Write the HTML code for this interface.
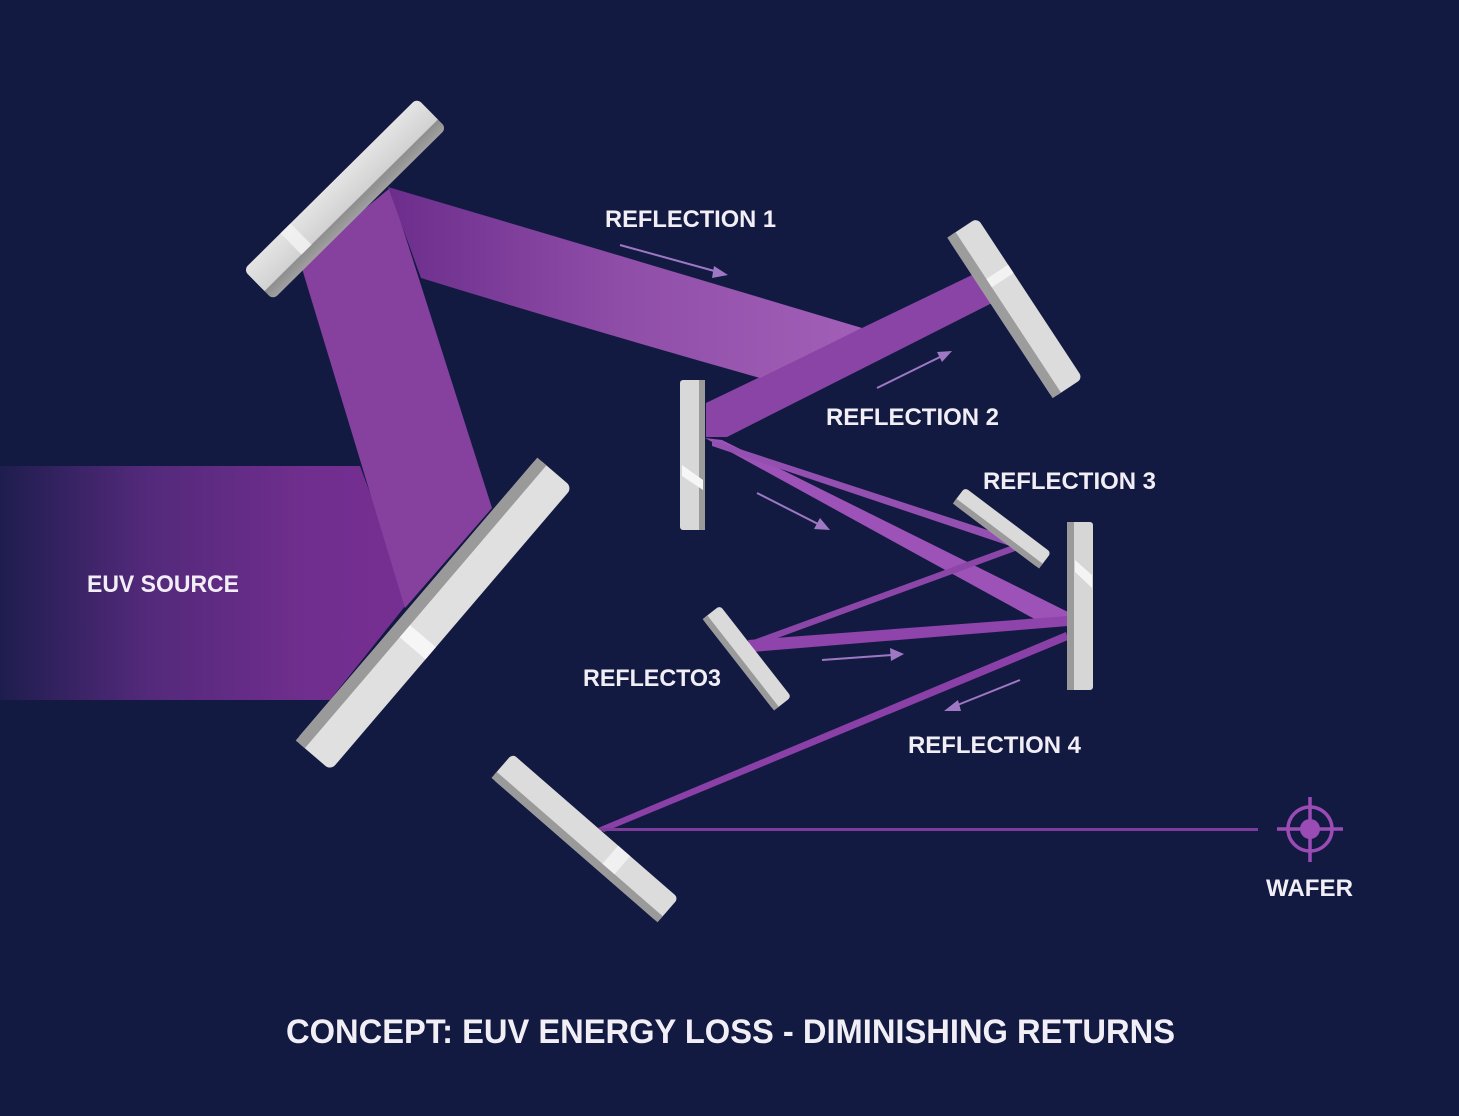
<!DOCTYPE html>
<html><head><meta charset="utf-8"><style>
html,body{margin:0;padding:0;background:#131a42;}
svg{display:block}
text{font-family:"Liberation Sans Narrow","Liberation Sans",sans-serif;fill:#f2eef6;font-weight:bold}
</style></head><body>
<svg width="1459" height="1116" viewBox="0 0 1459 1116" xmlns="http://www.w3.org/2000/svg">
<defs>
<linearGradient id="src" x1="0" x2="1" y1="0" y2="0">
<stop offset="0" stop-color="#1e1d4e"/><stop offset="0.35" stop-color="#52297a"/><stop offset="0.75" stop-color="#702e8e"/><stop offset="1" stop-color="#762f92"/>
</linearGradient>
<linearGradient id="b1" x1="0" x2="1" y1="0" y2="0">
<stop offset="0" stop-color="#6c2d8c"/><stop offset="0.5" stop-color="#8f4ea8"/><stop offset="1" stop-color="#a25fb8"/>
</linearGradient>
<linearGradient id="mir" x1="0" x2="0" y1="0" y2="1">
<stop offset="0" stop-color="#e4e4e4"/><stop offset="0.7" stop-color="#d2d2d2"/><stop offset="0.72" stop-color="#8e8e8e"/><stop offset="1" stop-color="#a0a0a0"/>
</linearGradient>
</defs>
<rect width="1459" height="1116" fill="#131a42"/>
<polygon points="0,466 360,466 410,600 330,700 0,700" fill="url(#src)"/>
<polygon points="300,262 390,188 492,508 405,608" fill="#86409e"/>
<!-- beam 2 D->C -->
<polygon points="972,275 992,303 727,437 706,437 706,403 862,328" fill="#8a44a6"/>
<!-- beam 1 A->D -->
<path d="M388,187 Q625,257 862,328 L760,378 Q590,330 421,278 Z" fill="url(#b1)"/>
<polygon points="705,438 722,440 1068,612 1068,626 1040,622" fill="#9c52b6"/>
<polygon points="712,440 1018,540 1016,548 712,446" fill="#9450b0"/>
<polygon points="1016,544 1018,550 750,648 748,642" fill="#8c46a8"/>
<polygon points="748,640 1068,616 1068,626 752,652" fill="#8e44aa"/>
<polygon points="1066,632 1068,640 604,832 598,828" fill="#8a40a6"/>
<rect x="600" y="828" width="658" height="3" fill="#7c3c9c"/>
<g transform="translate(345,199) rotate(-44.7)"><rect x="-122" y="-21" width="244" height="42" rx="6" fill="url(#mir)"/><rect x="-70" y="-21" width="14" height="30" fill="#f4f4f4" opacity="0.8"/></g>
<g transform="translate(434,614) rotate(-49.5)"><rect x="-186" y="-23" width="372" height="46" rx="7" fill="#e0e0e0"/><rect x="-186" y="-23" width="372" height="12" fill="#9a9a9a"/><rect x="-40" y="-11" width="16" height="34" fill="#f6f6f6"/></g>
<g><rect x="680" y="380" width="25" height="150" rx="3" fill="#d8d8d8"/><rect x="699" y="380" width="6" height="150" fill="#9a9a9a"/><polygon points="682,465 703,480 703,490 682,476" fill="#f6f6f6"/></g>
<g transform="translate(1015,308) rotate(56.7)"><rect x="-96" y="-18" width="192" height="36" rx="6" fill="#dcdcdc"/><rect x="-96" y="8" width="192" height="10" fill="#9c9c9c"/><rect x="-40" y="-18" width="10" height="26" fill="#f2f2f2"/></g>
<g transform="translate(1002,528) rotate(37)"><rect x="-54" y="-10" width="108" height="20" rx="4" fill="#dadada"/><rect x="-54" y="4" width="108" height="6" fill="#9a9a9a"/></g>
<g><rect x="1067" y="522" width="26" height="168" rx="3" fill="#d6d6d6"/><rect x="1067" y="522" width="7" height="168" fill="#9a9a9a"/><polygon points="1075,560 1092,575 1092,588 1075,572" fill="#f4f4f4"/></g>
<g transform="translate(747,658) rotate(52)"><rect x="-58" y="-11" width="116" height="22" rx="4" fill="#dadada"/><rect x="-58" y="5" width="116" height="6" fill="#9a9a9a"/></g>
<g transform="translate(585,838) rotate(41)"><rect x="-110" y="-16" width="220" height="32" rx="5" fill="#dcdcdc"/><rect x="-110" y="8" width="220" height="8" fill="#9a9a9a"/><rect x="30" y="-16" width="16" height="24" fill="#f0f0f0"/></g>
<g stroke="#9f78c4" stroke-width="2" fill="#9f78c4">
<line x1="620" y1="245" x2="718" y2="272"/><polygon points="728,275 714,266 712,278" stroke="none"/>
<line x1="877" y1="388" x2="942" y2="356"/><polygon points="952,351 937,352 942,362" stroke="none"/>
<line x1="757" y1="493" x2="820" y2="525"/><polygon points="830,530 820,518 814,529" stroke="none"/>
<line x1="822" y1="660" x2="892" y2="655"/><polygon points="904,654 890,648 891,661" stroke="none"/>
<line x1="1020" y1="680" x2="955" y2="706"/><polygon points="944,711 958,700 961,711" stroke="none"/>
</g>
<g stroke="#9a4cb4" stroke-width="3.5" fill="none">
<circle cx="1310" cy="829" r="22"/>
<line x1="1277" y1="829" x2="1343" y2="829"/><line x1="1310" y1="797" x2="1310" y2="862"/>
</g>
<circle cx="1310" cy="829" r="10" fill="#9a4cb4"/>
<text x="87" y="592" font-size="24" textLength="152" lengthAdjust="spacingAndGlyphs">EUV SOURCE</text>
<text x="605" y="227" font-size="24" textLength="171" lengthAdjust="spacingAndGlyphs">REFLECTION 1</text>
<text x="826" y="425" font-size="24" textLength="173" lengthAdjust="spacingAndGlyphs">REFLECTION 2</text>
<text x="983" y="489" font-size="24" textLength="173" lengthAdjust="spacingAndGlyphs">REFLECTION 3</text>
<text x="583" y="686" font-size="24" textLength="138" lengthAdjust="spacingAndGlyphs">REFLECTO3</text>
<text x="908" y="753" font-size="24" textLength="173" lengthAdjust="spacingAndGlyphs">REFLECTION 4</text>
<text x="1266" y="896" font-size="24" textLength="87" lengthAdjust="spacingAndGlyphs">WAFER</text>
<text x="286" y="1043" font-size="34" textLength="889" lengthAdjust="spacingAndGlyphs">CONCEPT: EUV ENERGY LOSS - DIMINISHING RETURNS</text>
</svg>
</body></html>
